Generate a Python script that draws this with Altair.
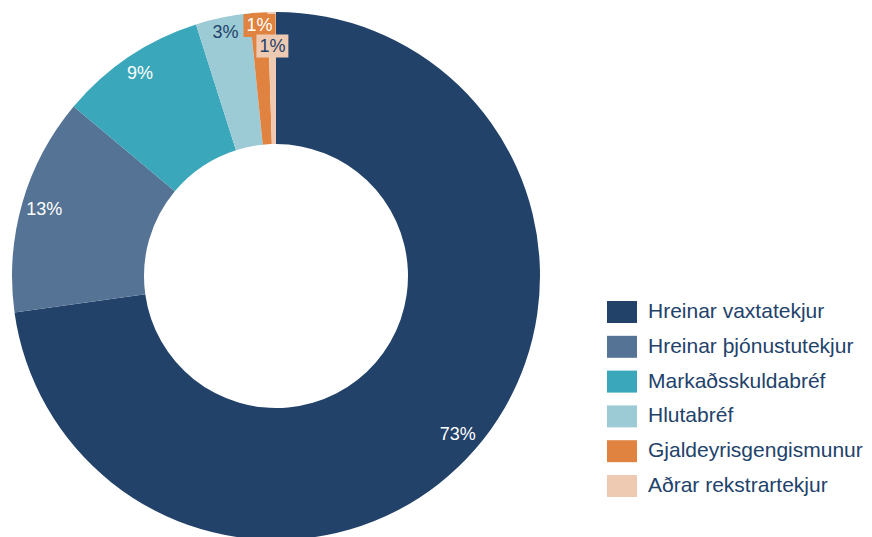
import altair as alt
import pandas as pd

categories = ["Hreinar vaxtatekjur", "Hreinar þjónustutekjur", "Markaðsskuldabréf",
              "Hlutabréf", "Gjaldeyrisgengismunur", "Aðrar rekstrartekjur"]
shares = [72.8, 13.3, 9.0, 3.3, 1.1, 0.5]
colors = ["#22426a", "#557395", "#3ba7ba", "#9ccbd5", "#e08340", "#efcab3"]
label_colors = ["#ffffff", "#ffffff", "#ffffff", "#22426a", "#ffffff", "#22426a"]

df = pd.DataFrame({
    "category": categories,
    "share": shares,
    "order": list(range(len(categories))),
    "fill": colors,
    "label_color": label_colors,
})

CX, CY = 268, 268
R_OUT, R_IN = 264, 132
FONT = "Liberation Sans"
DARK = "#22426a"

legend_path = "M-1,-0.733L1,-0.733L1,0.733L-1,0.733Z"

arcs = alt.Chart(df).mark_arc(innerRadius=R_IN, outerRadius=R_OUT).encode(
    theta=alt.Theta("share:Q", stack=True),
    order=alt.Order("order:Q"),
    color=alt.Color(
        "category:N",
        sort=categories,
        scale=alt.Scale(domain=categories, range=colors),
        legend=alt.Legend(
            title=None, orient="none", legendX=599, legendY=289,
            symbolType=legend_path, symbolSize=900, symbolStrokeWidth=0,
            labelFont=FONT, labelFontSize=21, labelColor=DARK,
            labelOffset=11, rowPadding=8.8, padding=0, labelLimit=400,
        ),
    ),
    x=alt.value(CX),
    y=alt.value(CY),
)

base = alt.Chart(df).transform_window(
    cum="sum(share)", sort=[alt.SortField("order")], frame=[None, 0]
).transform_joinaggregate(
    total="sum(share)"
).transform_calculate(
    mid="2*PI*(datum.cum - datum.share/2)/datum.total",
    pct="round(datum.share/datum.total*100) + '%'",
    r="datum.order == 5 ? 230 : 241 + 11*(1 - min(datum.share, 13)/13)",
).transform_calculate(
    lx=f"{CX} + datum.r*sin(datum.mid)",
    ly=f"{CY} - datum.r*cos(datum.mid)",
).transform_calculate(
    bx1="datum.lx - 16", bx2="datum.lx + 16",
    by1="datum.ly - 11.5", by2="datum.ly + 11.5",
)

boxes = base.transform_filter("datum.share < 2").mark_rect().encode(
    x=alt.X("bx1:Q", scale=None, axis=None),
    x2="bx2:Q",
    y=alt.Y("by1:Q", scale=None, axis=None),
    y2="by2:Q",
    color=alt.Color("fill:N", scale=None),
)

labels = base.mark_text(font=FONT, fontSize=18, align="center", baseline="middle", dy=1).encode(
    x=alt.X("lx:Q", scale=None, axis=None),
    y=alt.Y("ly:Q", scale=None, axis=None),
    text="pct:N",
    color=alt.Color("label_color:N", scale=None),
)

chart = alt.layer(arcs, boxes, labels).properties(
    width=536, height=529, padding=0
).configure_view(stroke=None)

chart.save("out.html", embed_options={"renderer": "svg", "actions": False})
